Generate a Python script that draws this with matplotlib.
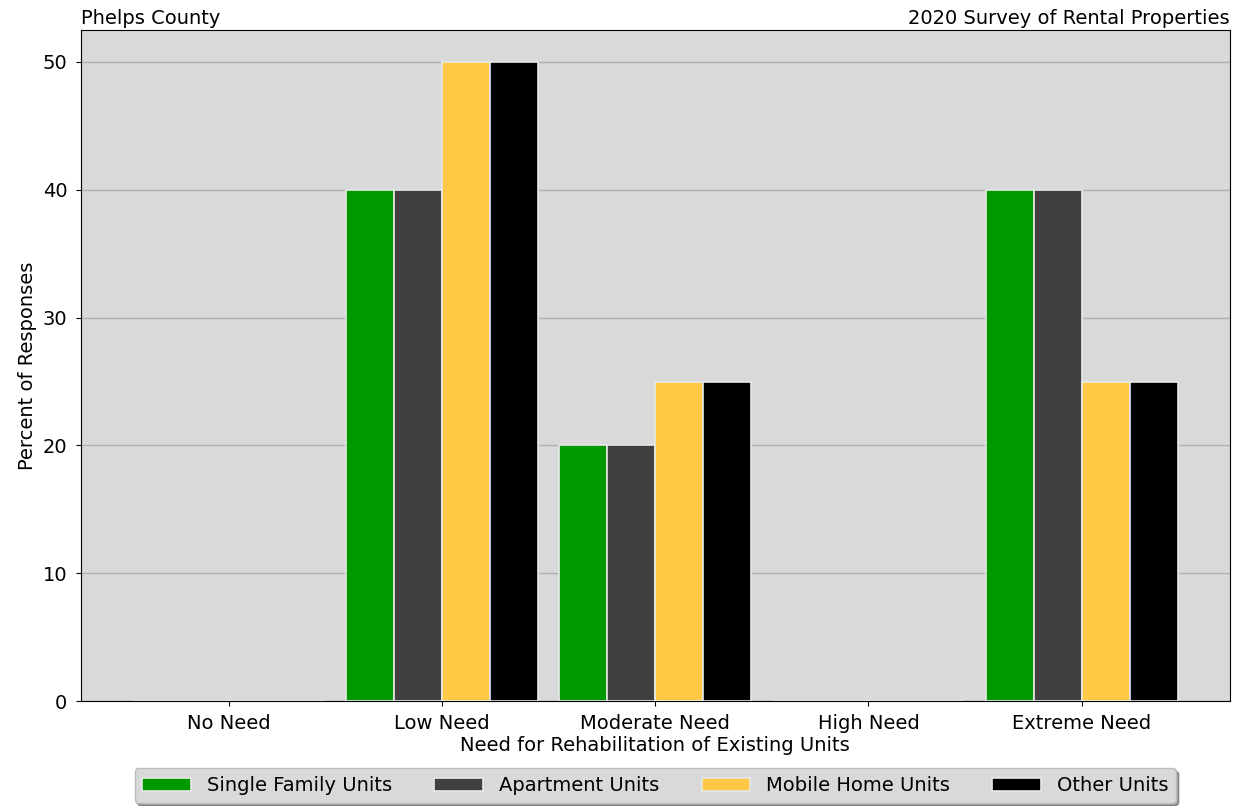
import numpy as np
import matplotlib.pyplot as plt

# Data
categories = ['No Need', 'Low Need', 'Moderate Need', 'High Need', 'Extreme Need']
series = ['Single Family Units', 'Apartment Units', 'Mobile Home Units', 'Other Units']
single_family = [0, 40, 20, 0, 40]
apartment = [0, 40, 20, 0, 40]
mobile_home = [0, 50, 25, 0, 25]
other = [0, 50, 25, 0, 25]
colors = ['#009900', '#404040', '#ffc844', '#000000']

values = [single_family, apartment, mobile_home, other]

fig, ax = plt.subplots(figsize=(12.41, 8.06), dpi=100)
fig.subplots_adjust(left=0.065, right=0.991, top=0.963, bottom=0.130)

ax.set_facecolor('#d9d9d9')
x = np.arange(len(categories))
w = 0.225
for j, (name, vals) in enumerate(zip(series, values)):
    ax.bar(x + (j - 1.5) * w, vals, w, color=colors[j], edgecolor='#e8e8e8',
           linewidth=1.2, label=name, zorder=3)

ax.yaxis.grid(True, color='#b0b0b0', linewidth=1, zorder=0)
ax.set_axisbelow(True)
ax.set_xticks(x)
ax.set_xticklabels(categories)
ax.tick_params(labelsize=14, pad=6)
ax.set_yticks([0, 10, 20, 30, 40, 50])
ax.set_xlabel('Need for Rehabilitation of Existing Units', fontsize=14, labelpad=2)
ax.set_ylabel('Percent of Responses', fontsize=14)

ax.text(0, 1.003, 'Phelps County', transform=ax.transAxes, ha='left', va='bottom', fontsize=14)
ax.text(1, 1.003, '2020 Survey of Rental Properties', transform=ax.transAxes, ha='right', va='bottom', fontsize=14)

leg = ax.legend(loc='upper center', bbox_to_anchor=(0.5, -0.1), borderaxespad=0, ncol=4, fontsize=14,
                facecolor='#d9d9d9', edgecolor='#bbbbbb', shadow=True, fancybox=True,
                framealpha=1, columnspacing=2.2, handlelength=2.5)

plt.savefig('out.png')
